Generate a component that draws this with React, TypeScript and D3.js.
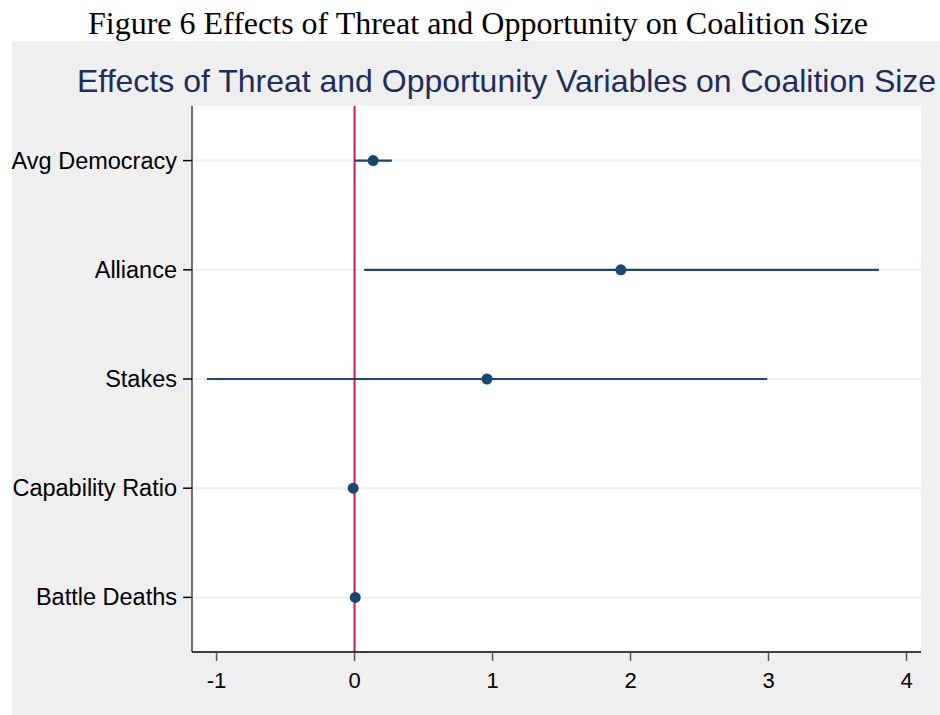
import React from "react";
import * as d3 from "d3";

const categories = ["Avg Democracy", "Alliance", "Stakes", "Capability Ratio", "Battle Deaths"];
const estimates = [0.135, 1.93, 0.96, -0.01, 0.005];
const lowerCI = [0.0, 0.07, -1.07, -0.01, 0.005];
const upperCI = [0.27, 3.8, 2.99, -0.01, 0.005];
const xTicks = [-1, 0, 1, 2, 3, 4];

const W = 940, H = 715;
const plot = { left: 192, right: 921, top: 106, bottom: 652 };

export default function App() {
  const x = d3.scaleLinear().domain([-1.178, 4.105]).range([plot.left, plot.right]);
  const y = d3.scalePoint<string>().domain(categories).range([plot.top, plot.bottom]).padding(0.5);
  const navy = "#1a476f";
  return (
    <svg width={W} height={H} style={{ position: "absolute", left: 0, top: 0 }}>
      <rect x={0} y={0} width={W} height={H} fill="#ffffff" />
      <text x={478} y={34} textAnchor="middle" fontFamily="'Liberation Serif', 'Times New Roman', serif" fontSize={32} fill="#000">
        Figure 6 Effects of Threat and Opportunity on Coalition Size
      </text>
      <rect x={12} y={41} width={W - 12} height={H - 41} fill="#efefef" />
      <text x={77} y={92} fontFamily="'Liberation Sans', Arial, sans-serif" fontSize={32} fill="#1e2d5a">
        Effects of Threat and Opportunity Variables on Coalition Size
      </text>
      <rect x={plot.left} y={plot.top} width={plot.right - plot.left} height={plot.bottom - plot.top} fill="#ffffff" />
      {categories.map((c) => (
        <line key={"g" + c} x1={plot.left} x2={plot.right} y1={y(c)} y2={y(c)} stroke="#eaf0f3" strokeWidth={2} />
      ))}
      <line x1={x(0)} x2={x(0)} y1={plot.top} y2={plot.bottom} stroke="#d0174a" strokeWidth={2} />
      {categories.map((c, i) => (
        <g key={"d" + c}>
          <line x1={x(lowerCI[i])} x2={x(upperCI[i])} y1={y(c)} y2={y(c)} stroke={navy} strokeWidth={2.2} />
          <circle cx={x(estimates[i])} cy={y(c)} r={5.5} fill={navy} />
        </g>
      ))}
      <line x1={plot.left} x2={plot.left} y1={plot.top} y2={plot.bottom} stroke="#6e6e6e" strokeWidth={2} />
      <line x1={plot.left} x2={plot.right} y1={plot.bottom} y2={plot.bottom} stroke="#000" strokeWidth={1.5} />
      {categories.map((c) => (
        <g key={"l" + c}>
          <line x1={plot.left - 9} x2={plot.left} y1={y(c)} y2={y(c)} stroke="#000" strokeWidth={1.5} />
          <text x={177} y={(y(c) as number) + 8} textAnchor="end" fontFamily="'Liberation Sans', Arial, sans-serif" fontSize={23.5} fill="#000">
            {c}
          </text>
        </g>
      ))}
      {xTicks.map((t) => (
        <g key={"t" + t}>
          <line x1={x(t)} x2={x(t)} y1={plot.bottom} y2={plot.bottom + 9} stroke="#555" strokeWidth={1.5} />
          <text x={x(t)} y={688} textAnchor="middle" fontFamily="'Liberation Sans', Arial, sans-serif" fontSize={22} fill="#000">
            {t}
          </text>
        </g>
      ))}
    </svg>
  );
}
